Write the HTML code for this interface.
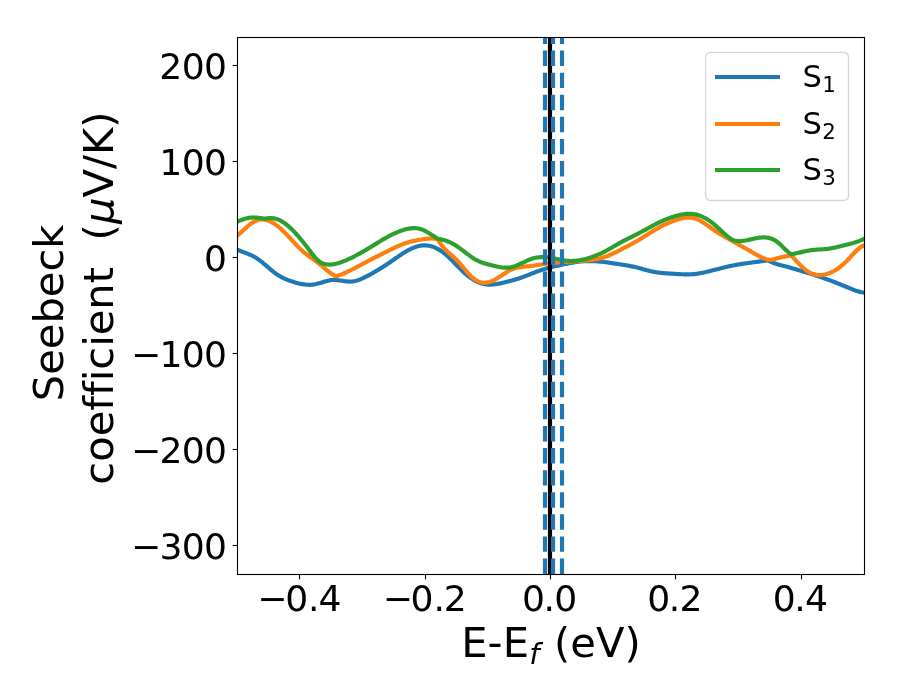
<!DOCTYPE html>
<html lang="en"><head><meta charset="utf-8"><title>Seebeck coefficient</title>
<style>html,body{margin:0;padding:0;background:#fff}body{width:900px;height:700px;overflow:hidden}svg{display:block}text{font-family:'DejaVu Sans','Liberation Sans',sans-serif;fill:#000;font-variant-ligatures:none;font-kerning:none}</style>
</head><body>
<svg width="900" height="700" viewBox="0 0 900 700">
<rect width="900" height="700" fill="#fff"/>
<defs><clipPath id="ax"><rect x="237" y="37" width="627.5" height="537.5"/></clipPath></defs>
<g clip-path="url(#ax)" fill="none" stroke-width="4.167" stroke-linejoin="round" stroke-linecap="butt">
<path d="M233.00 247.70 L234.00 248.14 L235.00 248.59 L236.00 249.03 L237.00 249.48 L238.00 249.92 L239.00 250.37 L240.00 250.79 L241.00 251.20 L242.00 251.59 L243.00 251.98 L244.00 252.36 L245.00 252.74 L246.00 253.12 L247.00 253.51 L248.00 253.91 L249.00 254.32 L250.00 254.74 L251.00 255.18 L252.00 255.65 L253.00 256.14 L254.00 256.67 L255.00 257.22 L256.00 257.82 L257.00 258.45 L258.00 259.13 L259.00 259.84 L260.00 260.59 L261.00 261.36 L262.00 262.16 L263.00 262.99 L264.00 263.83 L265.00 264.68 L266.00 265.55 L267.00 266.41 L268.00 267.28 L269.00 268.15 L270.00 269.00 L271.00 269.85 L272.00 270.68 L273.00 271.49 L274.00 272.27 L275.00 273.03 L276.00 273.75 L277.00 274.44 L278.00 275.09 L279.00 275.71 L280.00 276.30 L281.00 276.86 L282.00 277.39 L283.00 277.90 L284.00 278.38 L285.00 278.83 L286.00 279.27 L287.00 279.68 L288.00 280.07 L289.00 280.44 L290.00 280.80 L291.00 281.14 L292.00 281.47 L293.00 281.78 L294.00 282.09 L295.00 282.38 L296.00 282.66 L297.00 282.94 L298.00 283.20 L299.00 283.44 L300.00 283.67 L301.00 283.89 L302.00 284.08 L303.00 284.26 L304.00 284.41 L305.00 284.54 L306.00 284.65 L307.00 284.73 L308.00 284.78 L309.00 284.80 L310.00 284.80 L311.00 284.76 L312.00 284.69 L313.00 284.58 L314.00 284.44 L315.00 284.26 L316.00 284.05 L317.00 283.81 L318.00 283.55 L319.00 283.27 L320.00 282.98 L321.00 282.68 L322.00 282.38 L323.00 282.07 L324.00 281.77 L325.00 281.48 L326.00 281.20 L327.00 280.94 L328.00 280.70 L329.00 280.48 L330.00 280.30 L331.00 280.15 L332.00 280.04 L333.00 279.97 L334.00 279.95 L335.00 279.97 L336.00 280.02 L337.00 280.10 L338.00 280.21 L339.00 280.33 L340.00 280.47 L341.00 280.62 L342.00 280.77 L343.00 280.92 L344.00 281.07 L345.00 281.21 L346.00 281.33 L347.00 281.43 L348.00 281.51 L349.00 281.56 L350.00 281.57 L351.00 281.54 L352.00 281.47 L353.00 281.36 L354.00 281.20 L355.00 281.00 L356.00 280.76 L357.00 280.48 L358.00 280.17 L359.00 279.83 L360.00 279.46 L361.00 279.06 L362.00 278.63 L363.00 278.18 L364.00 277.71 L365.00 277.22 L366.00 276.72 L367.00 276.20 L368.00 275.66 L369.00 275.12 L370.00 274.57 L371.00 274.01 L372.00 273.44 L373.00 272.88 L374.00 272.30 L375.00 271.72 L376.00 271.14 L377.00 270.55 L378.00 269.95 L379.00 269.35 L380.00 268.74 L381.00 268.12 L382.00 267.50 L383.00 266.87 L384.00 266.23 L385.00 265.58 L386.00 264.93 L387.00 264.27 L388.00 263.61 L389.00 262.93 L390.00 262.25 L391.00 261.56 L392.00 260.87 L393.00 260.17 L394.00 259.47 L395.00 258.77 L396.00 258.07 L397.00 257.37 L398.00 256.68 L399.00 256.00 L400.00 255.32 L401.00 254.65 L402.00 254.00 L403.00 253.35 L404.00 252.72 L405.00 252.11 L406.00 251.51 L407.00 250.94 L408.00 250.38 L409.00 249.85 L410.00 249.34 L411.00 248.86 L412.00 248.40 L413.00 247.97 L414.00 247.57 L415.00 247.19 L416.00 246.85 L417.00 246.54 L418.00 246.27 L419.00 246.02 L420.00 245.82 L421.00 245.64 L422.00 245.51 L423.00 245.42 L424.00 245.36 L425.00 245.35 L426.00 245.38 L427.00 245.45 L428.00 245.56 L429.00 245.72 L430.00 245.93 L431.00 246.17 L432.00 246.46 L433.00 246.79 L434.00 247.17 L435.00 247.58 L436.00 248.04 L437.00 248.53 L438.00 249.07 L439.00 249.64 L440.00 250.26 L441.00 250.91 L442.00 251.60 L443.00 252.33 L444.00 253.09 L445.00 253.90 L446.00 254.73 L447.00 255.61 L448.00 256.51 L449.00 257.45 L450.00 258.41 L451.00 259.39 L452.00 260.39 L453.00 261.40 L454.00 262.43 L455.00 263.46 L456.00 264.50 L457.00 265.53 L458.00 266.57 L459.00 267.59 L460.00 268.61 L461.00 269.61 L462.00 270.59 L463.00 271.55 L464.00 272.49 L465.00 273.40 L466.00 274.27 L467.00 275.12 L468.00 275.93 L469.00 276.70 L470.00 277.45 L471.00 278.15 L472.00 278.83 L473.00 279.46 L474.00 280.07 L475.00 280.63 L476.00 281.16 L477.00 281.66 L478.00 282.11 L479.00 282.53 L480.00 282.91 L481.00 283.25 L482.00 283.55 L483.00 283.82 L484.00 284.04 L485.00 284.22 L486.00 284.37 L487.00 284.48 L488.00 284.55 L489.00 284.59 L490.00 284.60 L491.00 284.58 L492.00 284.54 L493.00 284.47 L494.00 284.37 L495.00 284.26 L496.00 284.12 L497.00 283.97 L498.00 283.80 L499.00 283.61 L500.00 283.42 L501.00 283.21 L502.00 283.00 L503.00 282.78 L504.00 282.55 L505.00 282.32 L506.00 282.08 L507.00 281.84 L508.00 281.59 L509.00 281.34 L510.00 281.08 L511.00 280.81 L512.00 280.54 L513.00 280.26 L514.00 279.97 L515.00 279.67 L516.00 279.37 L517.00 279.06 L518.00 278.74 L519.00 278.41 L520.00 278.08 L521.00 277.73 L522.00 277.37 L523.00 277.01 L524.00 276.64 L525.00 276.26 L526.00 275.88 L527.00 275.49 L528.00 275.09 L529.00 274.70 L530.00 274.30 L531.00 273.90 L532.00 273.50 L533.00 273.11 L534.00 272.72 L535.00 272.33 L536.00 271.95 L537.00 271.57 L538.00 271.20 L539.00 270.84 L540.00 270.49 L541.00 270.15 L542.00 269.82 L543.00 269.50 L544.00 269.19 L545.00 268.89 L546.00 268.61 L547.00 268.32 L548.00 268.05 L549.00 267.79 L550.00 267.53 L551.00 267.28 L552.00 267.03 L553.00 266.79 L554.00 266.55 L555.00 266.31 L556.00 266.08 L557.00 265.85 L558.00 265.63 L559.00 265.40 L560.00 265.18 L561.00 264.96 L562.00 264.73 L563.00 264.51 L564.00 264.29 L565.00 264.08 L566.00 263.86 L567.00 263.65 L568.00 263.45 L569.00 263.25 L570.00 263.06 L571.00 262.87 L572.00 262.69 L573.00 262.51 L574.00 262.35 L575.00 262.19 L576.00 262.04 L577.00 261.90 L578.00 261.77 L579.00 261.65 L580.00 261.54 L581.00 261.45 L582.00 261.36 L583.00 261.28 L584.00 261.22 L585.00 261.16 L586.00 261.12 L587.00 261.09 L588.00 261.06 L589.00 261.05 L590.00 261.05 L591.00 261.05 L592.00 261.07 L593.00 261.10 L594.00 261.13 L595.00 261.18 L596.00 261.24 L597.00 261.30 L598.00 261.38 L599.00 261.46 L600.00 261.55 L601.00 261.65 L602.00 261.76 L603.00 261.88 L604.00 262.00 L605.00 262.13 L606.00 262.26 L607.00 262.40 L608.00 262.54 L609.00 262.68 L610.00 262.83 L611.00 262.98 L612.00 263.13 L613.00 263.28 L614.00 263.44 L615.00 263.59 L616.00 263.75 L617.00 263.90 L618.00 264.05 L619.00 264.20 L620.00 264.35 L621.00 264.50 L622.00 264.66 L623.00 264.81 L624.00 264.97 L625.00 265.13 L626.00 265.30 L627.00 265.47 L628.00 265.64 L629.00 265.82 L630.00 266.01 L631.00 266.20 L632.00 266.40 L633.00 266.61 L634.00 266.83 L635.00 267.06 L636.00 267.29 L637.00 267.54 L638.00 267.79 L639.00 268.05 L640.00 268.32 L641.00 268.59 L642.00 268.87 L643.00 269.14 L644.00 269.41 L645.00 269.69 L646.00 269.96 L647.00 270.23 L648.00 270.49 L649.00 270.74 L650.00 270.99 L651.00 271.22 L652.00 271.45 L653.00 271.66 L654.00 271.86 L655.00 272.05 L656.00 272.22 L657.00 272.38 L658.00 272.52 L659.00 272.65 L660.00 272.78 L661.00 272.89 L662.00 272.99 L663.00 273.08 L664.00 273.16 L665.00 273.24 L666.00 273.32 L667.00 273.38 L668.00 273.45 L669.00 273.51 L670.00 273.57 L671.00 273.63 L672.00 273.68 L673.00 273.74 L674.00 273.80 L675.00 273.86 L676.00 273.93 L677.00 273.99 L678.00 274.05 L679.00 274.10 L680.00 274.16 L681.00 274.21 L682.00 274.25 L683.00 274.29 L684.00 274.32 L685.00 274.34 L686.00 274.36 L687.00 274.36 L688.00 274.36 L689.00 274.34 L690.00 274.31 L691.00 274.27 L692.00 274.21 L693.00 274.14 L694.00 274.05 L695.00 273.95 L696.00 273.83 L697.00 273.70 L698.00 273.56 L699.00 273.41 L700.00 273.24 L701.00 273.06 L702.00 272.88 L703.00 272.68 L704.00 272.48 L705.00 272.27 L706.00 272.05 L707.00 271.82 L708.00 271.59 L709.00 271.35 L710.00 271.10 L711.00 270.85 L712.00 270.60 L713.00 270.35 L714.00 270.09 L715.00 269.83 L716.00 269.57 L717.00 269.31 L718.00 269.04 L719.00 268.78 L720.00 268.52 L721.00 268.26 L722.00 268.00 L723.00 267.75 L724.00 267.50 L725.00 267.25 L726.00 267.00 L727.00 266.77 L728.00 266.53 L729.00 266.31 L730.00 266.09 L731.00 265.87 L732.00 265.67 L733.00 265.47 L734.00 265.28 L735.00 265.09 L736.00 264.91 L737.00 264.74 L738.00 264.57 L739.00 264.40 L740.00 264.24 L741.00 264.08 L742.00 263.93 L743.00 263.78 L744.00 263.63 L745.00 263.49 L746.00 263.34 L747.00 263.20 L748.00 263.06 L749.00 262.92 L750.00 262.78 L751.00 262.64 L752.00 262.50 L753.00 262.37 L754.00 262.23 L755.00 262.09 L756.00 261.96 L757.00 261.82 L758.00 261.69 L759.00 261.56 L760.00 261.42 L761.00 261.29 L762.00 261.16 L763.00 261.03 L764.00 260.90 L765.00 260.78 L766.00 260.65 L767.00 260.52 L768.00 260.40 L769.00 260.94 L770.00 261.44 L771.00 261.91 L772.00 262.34 L773.00 262.74 L774.00 263.11 L775.00 263.46 L776.00 263.78 L777.00 264.09 L778.00 264.38 L779.00 264.66 L780.00 264.93 L781.00 265.19 L782.00 265.44 L783.00 265.70 L784.00 265.96 L785.00 266.22 L786.00 266.49 L787.00 266.76 L788.00 267.04 L789.00 267.32 L790.00 267.61 L791.00 267.89 L792.00 268.18 L793.00 268.48 L794.00 268.77 L795.00 269.07 L796.00 269.37 L797.00 269.66 L798.00 269.96 L799.00 270.26 L800.00 270.56 L801.00 270.86 L802.00 271.16 L803.00 271.46 L804.00 271.76 L805.00 272.06 L806.00 272.36 L807.00 272.66 L808.00 272.96 L809.00 273.27 L810.00 273.57 L811.00 273.88 L812.00 274.19 L813.00 274.51 L814.00 274.82 L815.00 275.15 L816.00 275.47 L817.00 275.80 L818.00 276.13 L819.00 276.47 L820.00 276.81 L821.00 277.16 L822.00 277.50 L823.00 277.85 L824.00 278.21 L825.00 278.57 L826.00 278.93 L827.00 279.29 L828.00 279.66 L829.00 280.03 L830.00 280.41 L831.00 280.78 L832.00 281.16 L833.00 281.54 L834.00 281.93 L835.00 282.31 L836.00 282.70 L837.00 283.09 L838.00 283.49 L839.00 283.88 L840.00 284.28 L841.00 284.68 L842.00 285.08 L843.00 285.48 L844.00 285.89 L845.00 286.30 L846.00 286.71 L847.00 287.12 L848.00 287.54 L849.00 287.95 L850.00 288.37 L851.00 288.78 L852.00 289.19 L853.00 289.58 L854.00 289.97 L855.00 290.34 L856.00 290.70 L857.00 291.03 L858.00 291.34 L859.00 291.63 L860.00 291.88 L861.00 292.11 L862.00 292.30 L863.00 292.45 L864.00 292.56 L865.00 292.64 L866.00 292.73 L867.00 292.83 L868.00 292.92" stroke="#1f77b4"/>
<path d="M233.00 239.21 L234.00 238.37 L235.00 237.52 L236.00 236.68 L237.00 235.83 L238.00 234.99 L239.00 234.14 L240.00 233.26 L241.00 232.36 L242.00 231.44 L243.00 230.51 L244.00 229.58 L245.00 228.66 L246.00 227.75 L247.00 226.85 L248.00 225.98 L249.00 225.14 L250.00 224.34 L251.00 223.58 L252.00 222.88 L253.00 222.23 L254.00 221.65 L255.00 221.14 L256.00 220.70 L257.00 220.33 L258.00 220.03 L259.00 219.80 L260.00 219.63 L261.00 219.54 L262.00 219.50 L263.00 219.53 L264.00 219.62 L265.00 219.76 L266.00 219.97 L267.00 220.23 L268.00 220.55 L269.00 220.92 L270.00 221.35 L271.00 221.83 L272.00 222.35 L273.00 222.93 L274.00 223.55 L275.00 224.21 L276.00 224.91 L277.00 225.66 L278.00 226.44 L279.00 227.26 L280.00 228.11 L281.00 229.00 L282.00 229.91 L283.00 230.85 L284.00 231.82 L285.00 232.81 L286.00 233.82 L287.00 234.85 L288.00 235.90 L289.00 236.97 L290.00 238.04 L291.00 239.12 L292.00 240.21 L293.00 241.30 L294.00 242.38 L295.00 243.46 L296.00 244.53 L297.00 245.58 L298.00 246.62 L299.00 247.65 L300.00 248.64 L301.00 249.62 L302.00 250.56 L303.00 251.47 L304.00 252.34 L305.00 253.18 L306.00 253.98 L307.00 254.76 L308.00 255.52 L309.00 256.26 L310.00 256.98 L311.00 257.69 L312.00 258.40 L313.00 259.10 L314.00 259.80 L315.00 260.51 L316.00 261.23 L317.00 261.97 L318.00 262.72 L319.00 263.50 L320.00 264.30 L321.00 265.13 L322.00 265.98 L323.00 266.84 L324.00 267.71 L325.00 268.58 L326.00 269.45 L327.00 270.29 L328.00 271.12 L329.00 271.92 L330.00 272.69 L331.00 273.41 L332.00 274.08 L333.00 274.70 L334.00 275.25 L335.00 275.73 L336.00 276.13 L336.20 276.20 L337.20 275.90 L338.20 275.58 L339.20 275.24 L340.20 274.88 L341.20 274.51 L342.20 274.11 L343.20 273.71 L344.20 273.29 L345.20 272.85 L346.20 272.40 L347.20 271.94 L348.20 271.47 L349.20 270.99 L350.20 270.50 L351.20 270.00 L352.20 269.49 L353.20 268.98 L354.20 268.47 L355.20 267.94 L356.20 267.42 L357.20 266.89 L358.20 266.36 L359.20 265.82 L360.20 265.28 L361.20 264.74 L362.20 264.20 L363.20 263.66 L364.20 263.12 L365.20 262.58 L366.20 262.05 L367.20 261.51 L368.20 260.98 L369.20 260.44 L370.20 259.92 L371.20 259.39 L372.20 258.87 L373.20 258.35 L374.20 257.84 L375.20 257.33 L376.20 256.82 L377.20 256.31 L378.20 255.81 L379.20 255.30 L380.20 254.80 L381.20 254.30 L382.20 253.80 L383.20 253.31 L384.20 252.81 L385.20 252.31 L386.20 251.81 L387.20 251.32 L388.20 250.82 L389.20 250.32 L390.20 249.83 L391.20 249.34 L392.20 248.85 L393.20 248.37 L394.20 247.89 L395.20 247.42 L396.20 246.96 L397.20 246.51 L398.20 246.07 L399.20 245.63 L400.20 245.21 L401.20 244.81 L402.20 244.41 L403.20 244.04 L404.20 243.67 L405.20 243.33 L406.20 243.00 L407.20 242.68 L408.20 242.38 L409.20 242.09 L410.20 241.82 L411.20 241.56 L412.20 241.31 L413.20 241.07 L414.20 240.85 L415.20 240.63 L416.20 240.42 L417.20 240.23 L418.20 240.04 L419.20 239.85 L420.20 239.68 L421.20 239.51 L422.20 239.35 L423.20 239.19 L424.20 239.05 L425.20 238.92 L426.20 238.81 L427.20 238.71 L428.20 238.63 L429.20 238.57 L430.20 238.54 L431.20 238.53 L432.20 238.54 L433.20 238.59 L434.20 238.66 L435.20 238.77 L436.20 238.92 L437.20 239.10 L437.70 239.20 L438.70 240.92 L439.70 242.51 L440.70 243.97 L441.70 245.33 L442.70 246.60 L443.70 247.77 L444.70 248.87 L445.70 249.90 L446.70 250.88 L447.70 251.81 L448.70 252.71 L449.70 253.59 L450.70 254.45 L451.70 255.31 L452.70 256.18 L453.70 257.07 L454.70 257.99 L455.70 258.95 L456.70 259.96 L457.70 261.02 L458.70 262.12 L459.70 263.26 L460.70 264.42 L461.70 265.61 L462.70 266.81 L463.70 268.01 L464.70 269.21 L465.70 270.40 L466.70 271.57 L467.70 272.72 L468.70 273.84 L469.70 274.91 L470.70 275.94 L471.70 276.91 L472.70 277.81 L473.70 278.65 L474.70 279.41 L475.70 280.08 L476.70 280.67 L477.70 281.19 L478.70 281.62 L479.70 281.99 L480.70 282.27 L481.70 282.49 L482.70 282.64 L483.70 282.72 L484.70 282.73 L485.70 282.69 L486.70 282.58 L487.70 282.41 L488.70 282.19 L489.70 281.91 L490.70 281.58 L491.70 281.19 L492.70 280.76 L493.70 280.29 L494.70 279.77 L495.70 279.21 L496.70 278.62 L497.70 278.01 L498.70 277.37 L499.70 276.72 L500.70 276.06 L501.70 275.39 L502.70 274.72 L503.70 274.05 L504.70 273.39 L505.70 272.75 L506.70 272.12 L507.70 271.52 L508.70 270.95 L509.70 270.42 L510.70 269.92 L511.70 269.47 L512.70 269.06 L513.70 268.70 L514.70 268.37 L515.70 268.08 L516.70 267.83 L517.70 267.60 L518.70 267.40 L519.70 267.23 L520.70 267.07 L521.70 266.93 L522.70 266.81 L523.70 266.70 L524.70 266.60 L525.70 266.50 L526.70 266.41 L527.70 266.31 L528.70 266.21 L529.70 266.10 L530.70 265.99 L531.70 265.86 L532.70 265.73 L533.70 265.59 L534.70 265.45 L535.70 265.30 L536.70 265.14 L537.70 264.99 L538.70 264.83 L539.70 264.67 L540.70 264.51 L541.70 264.35 L542.70 264.20 L543.70 264.04 L544.70 263.89 L545.70 263.75 L546.70 263.61 L547.70 263.47 L548.70 263.35 L549.70 263.23 L550.70 263.12 L551.70 263.01 L552.70 262.91 L553.70 262.82 L554.70 262.73 L555.70 262.65 L556.70 262.57 L557.70 262.49 L558.70 262.42 L559.70 262.35 L560.70 262.28 L561.70 262.21 L562.70 262.15 L563.70 262.09 L564.70 262.03 L565.70 261.97 L566.70 261.90 L567.70 261.84 L568.70 261.78 L569.70 261.72 L570.70 261.65 L571.70 261.59 L572.70 261.52 L573.70 261.45 L574.70 261.38 L575.70 261.32 L576.70 261.24 L577.70 261.17 L578.70 261.10 L579.70 261.02 L580.70 260.94 L581.70 260.86 L582.70 260.78 L583.70 260.70 L584.70 260.61 L585.70 260.52 L586.70 260.43 L587.70 260.33 L588.70 260.23 L589.70 260.12 L590.70 260.00 L591.70 259.87 L592.70 259.74 L593.70 259.59 L594.70 259.43 L595.70 259.26 L596.70 259.08 L597.70 258.88 L598.70 258.66 L599.70 258.43 L600.70 258.18 L601.70 257.90 L602.70 257.61 L603.70 257.30 L604.70 256.97 L605.70 256.62 L606.70 256.25 L607.70 255.86 L608.70 255.46 L609.70 255.04 L610.70 254.60 L611.70 254.16 L612.70 253.70 L613.70 253.23 L614.70 252.75 L615.70 252.26 L616.70 251.77 L617.70 251.27 L618.70 250.76 L619.70 250.25 L620.70 249.74 L621.70 249.22 L622.70 248.70 L623.70 248.18 L624.70 247.66 L625.70 247.14 L626.70 246.61 L627.70 246.08 L628.70 245.55 L629.70 245.01 L630.70 244.47 L631.70 243.92 L632.70 243.37 L633.70 242.81 L634.70 242.25 L635.70 241.68 L636.70 241.10 L637.70 240.52 L638.70 239.93 L639.70 239.34 L640.70 238.73 L641.70 238.12 L642.70 237.50 L643.70 236.88 L644.70 236.25 L645.70 235.62 L646.70 235.00 L647.70 234.37 L648.70 233.74 L649.70 233.11 L650.70 232.49 L651.70 231.87 L652.70 231.26 L653.70 230.65 L654.70 230.05 L655.70 229.46 L656.70 228.88 L657.70 228.31 L658.70 227.76 L659.70 227.21 L660.70 226.68 L661.70 226.16 L662.70 225.66 L663.70 225.17 L664.70 224.69 L665.70 224.22 L666.70 223.76 L667.70 223.32 L668.70 222.89 L669.70 222.47 L670.70 222.07 L671.70 221.67 L672.70 221.29 L673.70 220.93 L674.70 220.57 L675.70 220.23 L676.70 219.89 L677.70 219.58 L678.70 219.27 L679.70 218.99 L680.70 218.72 L681.70 218.48 L682.70 218.26 L683.70 218.07 L684.70 217.90 L685.70 217.77 L686.70 217.68 L687.70 217.62 L688.70 217.60 L689.70 217.62 L690.70 217.68 L691.70 217.79 L692.70 217.95 L693.70 218.16 L694.70 218.43 L695.70 218.75 L696.70 219.12 L697.70 219.54 L698.70 220.00 L699.70 220.51 L700.70 221.06 L701.70 221.64 L702.70 222.24 L703.70 222.88 L704.70 223.54 L705.70 224.21 L706.70 224.91 L707.70 225.61 L708.70 226.32 L709.70 227.03 L710.70 227.75 L711.70 228.46 L712.70 229.16 L713.70 229.85 L714.70 230.53 L715.70 231.19 L716.70 231.85 L717.70 232.49 L718.70 233.12 L719.70 233.74 L720.70 234.36 L721.70 234.96 L722.70 235.56 L723.70 236.15 L724.70 236.73 L725.70 237.31 L726.70 237.89 L727.70 238.46 L728.70 239.02 L729.70 239.58 L730.70 240.14 L731.70 240.70 L732.70 241.26 L733.70 241.82 L734.70 242.37 L735.70 242.93 L736.70 243.49 L737.70 244.04 L738.70 244.60 L739.70 245.16 L740.70 245.71 L741.70 246.27 L742.70 246.83 L743.70 247.40 L744.70 247.96 L745.70 248.53 L746.70 249.10 L747.70 249.67 L748.70 250.24 L749.70 250.82 L750.70 251.40 L751.70 251.98 L752.70 252.56 L753.70 253.14 L754.70 253.71 L755.70 254.27 L756.70 254.82 L757.70 255.36 L758.70 255.89 L759.70 256.39 L760.70 256.87 L761.70 257.33 L762.70 257.77 L763.70 258.17 L764.70 258.55 L765.70 258.89 L766.70 259.19 L767.70 259.46 L768.30 259.60 L769.30 259.72 L770.30 259.75 L771.30 259.70 L772.30 259.58 L773.30 259.39 L774.30 259.16 L775.30 258.89 L776.30 258.60 L777.30 258.30 L778.30 258.00 L779.30 257.71 L780.30 257.44 L781.30 257.19 L782.30 256.97 L783.30 256.77 L784.30 256.59 L785.30 256.41 L786.30 256.24 L787.30 256.07 L788.30 255.90 L789.30 255.72 L790.30 255.53 L791.30 255.32 L791.40 255.30 L792.40 256.47 L793.40 257.63 L794.40 258.78 L795.40 259.91 L796.40 261.03 L797.40 262.12 L798.40 263.18 L799.40 264.22 L800.40 265.23 L801.40 266.20 L802.40 267.13 L803.40 268.03 L804.40 268.88 L805.40 269.68 L806.40 270.44 L807.40 271.14 L808.40 271.78 L809.40 272.37 L810.40 272.90 L811.40 273.36 L812.40 273.77 L813.40 274.11 L814.40 274.40 L815.40 274.64 L816.40 274.82 L817.40 274.95 L818.40 275.03 L819.40 275.06 L820.40 275.05 L821.40 274.99 L822.40 274.88 L823.40 274.74 L824.40 274.55 L825.40 274.32 L826.40 274.06 L827.40 273.76 L828.40 273.43 L829.40 273.06 L830.40 272.66 L831.40 272.23 L832.40 271.76 L833.40 271.26 L834.40 270.72 L835.40 270.14 L836.40 269.53 L837.40 268.88 L838.40 268.20 L839.40 267.48 L840.40 266.72 L841.40 265.92 L842.40 265.09 L843.40 264.21 L844.40 263.30 L845.40 262.35 L846.40 261.35 L847.40 260.32 L848.40 259.26 L849.40 258.18 L850.40 257.09 L851.40 255.99 L852.40 254.89 L853.40 253.81 L854.40 252.75 L855.40 251.73 L856.40 250.74 L857.40 249.79 L858.40 248.91 L859.40 248.08 L860.40 247.33 L861.40 246.67 L862.40 246.09 L863.40 245.61 L864.40 245.24 L865.40 244.87 L866.40 244.50 L867.40 244.14 L868.00 243.91" stroke="#ff7f0e"/>
<path d="M233.00 223.16 L234.00 222.77 L235.00 222.39 L236.00 222.00 L237.00 221.61 L238.00 221.22 L239.00 220.83 L240.00 220.46 L241.00 220.09 L242.00 219.74 L243.00 219.41 L244.00 219.09 L245.00 218.80 L246.00 218.53 L247.00 218.29 L248.00 218.08 L249.00 217.90 L250.00 217.75 L251.00 217.63 L252.00 217.55 L253.00 217.51 L254.00 217.51 L255.00 217.53 L256.00 217.58 L257.00 217.66 L258.00 217.76 L259.00 217.88 L260.00 218.01 L261.00 218.15 L262.00 218.31 L263.00 218.47 L264.00 218.63 L265.00 218.80 L266.00 218.56 L267.00 218.37 L268.00 218.22 L269.00 218.12 L270.00 218.08 L271.00 218.08 L272.00 218.13 L273.00 218.23 L274.00 218.39 L275.00 218.59 L276.00 218.85 L277.00 219.16 L278.00 219.52 L279.00 219.93 L280.00 220.40 L281.00 220.92 L282.00 221.49 L283.00 222.11 L284.00 222.78 L285.00 223.49 L286.00 224.25 L287.00 225.04 L288.00 225.88 L289.00 226.75 L290.00 227.66 L291.00 228.60 L292.00 229.58 L293.00 230.58 L294.00 231.61 L295.00 232.67 L296.00 233.75 L297.00 234.86 L298.00 235.99 L299.00 237.14 L300.00 238.32 L301.00 239.51 L302.00 240.73 L303.00 241.96 L304.00 243.22 L305.00 244.49 L306.00 245.78 L307.00 247.08 L308.00 248.40 L309.00 249.72 L310.00 251.05 L311.00 252.37 L312.00 253.66 L313.00 254.92 L314.00 256.14 L315.00 257.31 L316.00 258.41 L317.00 259.43 L318.00 260.36 L319.00 261.20 L320.00 261.92 L321.00 262.53 L322.00 263.00 L323.00 263.42 L324.00 263.76 L325.00 264.05 L326.00 264.27 L327.00 264.43 L328.00 264.53 L329.00 264.59 L330.00 264.59 L331.00 264.55 L332.00 264.46 L333.00 264.33 L334.00 264.17 L335.00 263.97 L336.00 263.75 L337.00 263.49 L338.00 263.21 L339.00 262.91 L340.00 262.59 L341.00 262.26 L342.00 261.90 L343.00 261.53 L344.00 261.14 L345.00 260.74 L346.00 260.32 L347.00 259.89 L348.00 259.44 L349.00 258.98 L350.00 258.51 L351.00 258.03 L352.00 257.54 L353.00 257.04 L354.00 256.53 L355.00 256.01 L356.00 255.48 L357.00 254.95 L358.00 254.41 L359.00 253.86 L360.00 253.31 L361.00 252.75 L362.00 252.18 L363.00 251.61 L364.00 251.03 L365.00 250.44 L366.00 249.85 L367.00 249.26 L368.00 248.66 L369.00 248.06 L370.00 247.46 L371.00 246.85 L372.00 246.23 L373.00 245.62 L374.00 245.00 L375.00 244.38 L376.00 243.76 L377.00 243.14 L378.00 242.52 L379.00 241.91 L380.00 241.30 L381.00 240.69 L382.00 240.09 L383.00 239.50 L384.00 238.91 L385.00 238.33 L386.00 237.76 L387.00 237.20 L388.00 236.66 L389.00 236.12 L390.00 235.60 L391.00 235.08 L392.00 234.59 L393.00 234.10 L394.00 233.63 L395.00 233.17 L396.00 232.73 L397.00 232.31 L398.00 231.90 L399.00 231.51 L400.00 231.13 L401.00 230.77 L402.00 230.43 L403.00 230.11 L404.00 229.81 L405.00 229.52 L406.00 229.26 L407.00 229.01 L408.00 228.80 L409.00 228.61 L410.00 228.44 L411.00 228.31 L412.00 228.22 L413.00 228.15 L414.00 228.13 L415.00 228.14 L416.00 228.20 L417.00 228.30 L418.00 228.45 L419.00 228.64 L420.00 228.89 L421.00 229.19 L422.00 229.54 L423.00 229.94 L424.00 230.39 L425.00 230.88 L426.00 231.41 L427.00 231.97 L428.00 232.55 L429.00 233.16 L430.00 233.78 L431.00 234.42 L432.00 235.06 L433.00 235.71 L434.00 236.36 L435.00 237.00 L436.00 237.63 L437.00 238.24 L437.60 238.60 L438.60 238.77 L439.60 238.97 L440.60 239.18 L441.60 239.42 L442.60 239.67 L443.60 239.96 L444.60 240.26 L445.60 240.59 L446.60 240.94 L447.60 241.32 L448.60 241.73 L449.60 242.16 L450.60 242.62 L451.60 243.11 L452.60 243.63 L453.60 244.18 L454.60 244.76 L455.60 245.36 L456.60 246.00 L457.60 246.67 L458.60 247.37 L459.60 248.09 L460.60 248.82 L461.60 249.58 L462.60 250.34 L463.60 251.11 L464.60 251.88 L465.60 252.66 L466.60 253.43 L467.60 254.19 L468.60 254.95 L469.60 255.68 L470.60 256.40 L471.60 257.10 L472.60 257.77 L473.60 258.41 L474.60 259.02 L475.60 259.59 L476.60 260.13 L477.60 260.64 L478.60 261.11 L479.60 261.55 L480.60 261.97 L481.60 262.36 L482.60 262.73 L483.60 263.07 L484.60 263.40 L485.60 263.71 L486.60 264.00 L487.60 264.28 L488.60 264.54 L489.60 264.80 L490.60 265.05 L491.60 265.29 L492.60 265.53 L493.60 265.77 L494.60 266.01 L495.60 266.24 L496.60 266.46 L497.60 266.67 L498.60 266.87 L499.60 267.05 L500.60 267.22 L501.60 267.37 L502.60 267.49 L503.60 267.59 L504.60 267.66 L505.60 267.70 L506.60 267.70 L507.60 267.67 L508.60 267.61 L509.60 267.50 L510.60 267.35 L511.60 267.15 L512.60 266.91 L513.60 266.62 L514.60 266.29 L515.60 265.93 L516.60 265.53 L517.60 265.11 L518.60 264.67 L519.60 264.21 L520.60 263.73 L521.60 263.25 L522.60 262.76 L523.60 262.27 L524.60 261.79 L525.60 261.31 L526.60 260.85 L527.60 260.40 L528.60 259.97 L529.60 259.57 L530.60 259.20 L531.60 258.86 L532.60 258.56 L533.60 258.28 L534.60 258.03 L535.60 257.82 L536.60 257.63 L537.60 257.47 L538.60 257.34 L539.60 257.23 L540.60 257.15 L541.60 257.10 L542.60 257.08 L543.60 257.08 L544.60 257.10 L545.60 257.15 L546.60 257.21 L547.60 257.31 L548.60 257.42 L549.60 257.56 L550.60 257.71 L551.60 257.88 L552.60 258.07 L553.60 258.26 L554.60 258.47 L555.60 258.68 L556.60 258.90 L557.60 259.11 L558.60 259.33 L559.60 259.54 L560.60 259.75 L561.60 259.95 L562.60 260.13 L563.60 260.31 L564.60 260.47 L565.60 260.60 L566.60 260.72 L567.60 260.82 L568.60 260.89 L569.60 260.94 L570.60 260.96 L571.60 260.96 L572.60 260.94 L573.60 260.90 L574.60 260.83 L575.60 260.75 L576.60 260.65 L577.60 260.53 L578.60 260.39 L579.60 260.23 L580.60 260.05 L581.60 259.86 L582.60 259.65 L583.60 259.43 L584.60 259.19 L585.60 258.94 L586.60 258.68 L587.60 258.40 L588.60 258.10 L589.60 257.80 L590.60 257.48 L591.60 257.14 L592.60 256.80 L593.60 256.44 L594.60 256.06 L595.60 255.67 L596.60 255.27 L597.60 254.86 L598.60 254.43 L599.60 253.99 L600.60 253.53 L601.60 253.06 L602.60 252.58 L603.60 252.09 L604.60 251.58 L605.60 251.06 L606.60 250.52 L607.60 249.98 L608.60 249.43 L609.60 248.87 L610.60 248.30 L611.60 247.73 L612.60 247.15 L613.60 246.57 L614.60 245.99 L615.60 245.41 L616.60 244.82 L617.60 244.25 L618.60 243.67 L619.60 243.10 L620.60 242.53 L621.60 241.97 L622.60 241.42 L623.60 240.88 L624.60 240.35 L625.60 239.82 L626.60 239.30 L627.60 238.79 L628.60 238.28 L629.60 237.78 L630.60 237.28 L631.60 236.78 L632.60 236.28 L633.60 235.79 L634.60 235.29 L635.60 234.79 L636.60 234.30 L637.60 233.79 L638.60 233.29 L639.60 232.78 L640.60 232.26 L641.60 231.74 L642.60 231.21 L643.60 230.68 L644.60 230.14 L645.60 229.60 L646.60 229.05 L647.60 228.51 L648.60 227.96 L649.60 227.42 L650.60 226.88 L651.60 226.34 L652.60 225.80 L653.60 225.27 L654.60 224.74 L655.60 224.22 L656.60 223.70 L657.60 223.20 L658.60 222.70 L659.60 222.22 L660.60 221.74 L661.60 221.28 L662.60 220.83 L663.60 220.39 L664.60 219.96 L665.60 219.54 L666.60 219.14 L667.60 218.75 L668.60 218.37 L669.60 218.00 L670.60 217.65 L671.60 217.30 L672.60 216.98 L673.60 216.66 L674.60 216.36 L675.60 216.07 L676.60 215.79 L677.60 215.53 L678.60 215.28 L679.60 215.05 L680.60 214.83 L681.60 214.63 L682.60 214.44 L683.60 214.28 L684.60 214.14 L685.60 214.02 L686.60 213.93 L687.60 213.86 L688.60 213.82 L689.60 213.80 L690.60 213.82 L691.60 213.87 L692.60 213.95 L693.60 214.06 L694.60 214.21 L695.60 214.40 L696.60 214.62 L697.60 214.89 L698.60 215.19 L699.60 215.53 L700.60 215.91 L701.60 216.33 L702.60 216.78 L703.60 217.27 L704.60 217.79 L705.60 218.35 L706.60 218.94 L707.60 219.56 L708.60 220.22 L709.60 220.91 L710.60 221.63 L711.60 222.38 L712.60 223.15 L713.60 223.96 L714.60 224.80 L715.60 225.66 L716.60 226.55 L717.60 227.46 L718.60 228.38 L719.60 229.31 L720.60 230.24 L721.60 231.18 L722.60 232.10 L723.60 233.01 L724.60 233.91 L725.60 234.78 L726.60 235.63 L727.60 236.44 L728.60 237.21 L729.60 237.94 L730.60 238.61 L731.60 239.24 L732.60 239.80 L733.60 240.30 L734.60 240.56 L735.60 240.77 L736.60 240.92 L737.60 241.02 L738.60 241.08 L739.60 241.09 L740.60 241.06 L741.60 240.99 L742.60 240.89 L743.60 240.77 L744.60 240.62 L745.60 240.44 L746.60 240.25 L747.60 240.05 L748.60 239.84 L749.60 239.62 L750.60 239.39 L751.60 239.17 L752.60 238.95 L753.60 238.73 L754.60 238.52 L755.60 238.31 L756.60 238.13 L757.60 237.95 L758.60 237.80 L759.60 237.66 L760.60 237.56 L761.60 237.47 L762.60 237.42 L763.60 237.40 L764.60 237.41 L765.60 237.47 L766.60 237.56 L767.60 237.70 L768.60 237.89 L769.60 238.13 L770.60 238.42 L771.60 238.77 L772.60 239.17 L773.60 239.64 L774.60 240.18 L775.60 240.79 L776.60 241.47 L777.60 242.22 L778.60 243.04 L779.60 243.92 L780.60 244.84 L781.60 245.79 L782.60 246.76 L783.60 247.74 L784.60 248.72 L785.60 249.68 L786.60 250.61 L787.60 251.50 L788.60 252.34 L789.60 253.11 L790.60 253.81 L791.40 254.30 L792.40 254.13 L793.40 253.94 L794.40 253.74 L795.40 253.53 L796.40 253.31 L797.40 253.07 L798.40 252.84 L799.40 252.60 L800.40 252.36 L801.40 252.11 L802.40 251.87 L803.40 251.64 L804.40 251.41 L805.40 251.19 L806.40 250.98 L807.40 250.78 L808.40 250.60 L809.40 250.43 L810.40 250.28 L811.40 250.15 L812.40 250.03 L813.40 249.92 L814.40 249.83 L815.40 249.75 L816.40 249.68 L817.40 249.61 L818.40 249.54 L819.40 249.48 L820.40 249.42 L821.40 249.36 L822.40 249.29 L823.40 249.22 L824.40 249.14 L825.40 249.05 L826.40 248.95 L827.40 248.84 L828.40 248.71 L829.40 248.57 L830.40 248.42 L831.40 248.25 L832.40 248.07 L833.40 247.88 L834.40 247.68 L835.40 247.46 L836.40 247.24 L837.40 247.02 L838.40 246.78 L839.40 246.54 L840.40 246.29 L841.40 246.04 L842.40 245.79 L843.40 245.54 L844.40 245.28 L845.40 245.02 L846.40 244.77 L847.40 244.51 L848.40 244.25 L849.40 243.99 L850.40 243.73 L851.40 243.46 L852.40 243.18 L853.40 242.89 L854.40 242.59 L855.40 242.27 L856.40 241.95 L857.40 241.60 L858.40 241.24 L859.40 240.85 L860.40 240.45 L861.40 240.02 L862.40 239.56 L863.40 239.08 L864.40 238.57 L865.40 238.07 L866.40 237.56 L867.40 237.05 L868.00 236.75" stroke="#2ca02c"/>
<line x1="550" y1="574.6" x2="550" y2="36.6" stroke="#000"/>
<line x1="545" y1="573.9" x2="545" y2="36.6" stroke="#1f77b4" stroke-dasharray="15.417 6.667"/>
<line x1="553" y1="573.9" x2="553" y2="36.6" stroke="#1f77b4" stroke-dasharray="15.417 6.667"/>
<line x1="562" y1="573.9" x2="562" y2="36.6" stroke="#1f77b4" stroke-dasharray="15.417 6.667"/>
</g>
<rect x="237.5" y="37.5" width="627" height="537" fill="none" stroke="#000" stroke-width="1.111"/>
<g stroke="#000" stroke-width="1.111">
<line x1="299.5" y1="574.5" x2="299.5" y2="579.4"/>
<line x1="425.5" y1="574.5" x2="425.5" y2="579.4"/>
<line x1="550.5" y1="574.5" x2="550.5" y2="579.4"/>
<line x1="675.5" y1="574.5" x2="675.5" y2="579.4"/>
<line x1="801.5" y1="574.5" x2="801.5" y2="579.4"/>
<line x1="237.5" y1="65.5" x2="232.6" y2="65.5"/>
<line x1="237.5" y1="161.5" x2="232.6" y2="161.5"/>
<line x1="237.5" y1="257.5" x2="232.6" y2="257.5"/>
<line x1="237.5" y1="353.5" x2="232.6" y2="353.5"/>
<line x1="237.5" y1="449.5" x2="232.6" y2="449.5"/>
<line x1="237.5" y1="545.5" x2="232.6" y2="545.5"/>
</g>
<g font-size="36.111">
<text x="257.36 285.21 307.99 318.47" y="610.76">−0.4</text>
<text x="382.76 410.61 433.39 443.87" y="610.76">−0.2</text>
<text x="521.89 543.46 554.14" y="610.76">0.0</text>
<text x="647.29 668.86 679.54" y="610.76">0.2</text>
<text x="772.69 794.26 804.94" y="610.76">0.4</text>
<text x="131.10 159.45 181.63 203.90" y="559.32">−300</text>
<text x="131.10 159.45 181.63 203.90" y="463.30">−200</text>
<text x="131.10 159.45 181.63 203.90" y="367.28">−100</text>
<text x="203.90" y="271.26">0</text>
<text x="159.25 181.63 203.90" y="175.24">100</text>
<text x="159.25 181.63 203.90" y="79.22">200</text>
</g>
<g transform="translate(461.28 657.29)"><text font-size="41.667" style="white-space:pre"><tspan x="0.00" y="-0.33">E-E</tspan><tspan x="68.09" y="6.51" font-style="oblique" font-size="29.167">f</tspan><tspan x="79.49" y="-0.33"> (eV)</tspan></text></g>
<text font-size="41.667" transform="translate(62.80 401.30) rotate(-90)">Seebeck</text>
<g transform="translate(113.47 484.66) rotate(-90)"><text font-size="41.667" style="white-space:pre"><tspan x="0.00" y="-0.28">coefficient  (</tspan><tspan x="260.56" y="-0.28" font-style="oblique">μ</tspan><tspan x="287.07" y="-0.28">V/K)</tspan></text></g>
<rect x="705.6" y="52.4" width="142.9" height="148.1" rx="5" ry="5" fill="#fff" fill-opacity="0.8" stroke="#ccc" stroke-opacity="0.8" stroke-width="1.389"/>
<line x1="717.08" y1="77.00" x2="777.92" y2="77.00" stroke="#1f77b4" stroke-width="4.167" stroke-linecap="square"/>
<line x1="717.08" y1="124.00" x2="777.92" y2="124.00" stroke="#ff7f0e" stroke-width="4.167" stroke-linecap="square"/>
<line x1="717.08" y1="170.00" x2="777.92" y2="170.00" stroke="#2ca02c" stroke-width="4.167" stroke-linecap="square"/>
<g transform="translate(802.48 88.22)"><text font-size="30.556"><tspan x="0" y="-0.93">S</tspan><tspan x="19.69" y="4.08" font-size="21.389">1</tspan></text></g>
<g transform="translate(802.48 135.02)"><text font-size="30.556"><tspan x="0" y="-0.93">S</tspan><tspan x="19.69" y="4.08" font-size="21.389">2</tspan></text></g>
<g transform="translate(802.48 180.84)"><text font-size="30.556"><tspan x="0" y="-0.93">S</tspan><tspan x="19.69" y="4.08" font-size="21.389">3</tspan></text></g>
</svg>
</body></html>
